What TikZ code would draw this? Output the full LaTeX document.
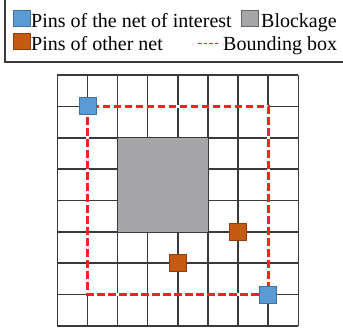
\documentclass[tikz,border=0pt]{standalone}
\usepackage{fontspec}
\setmainfont{Liberation Serif}
\definecolor{pinblue}{HTML}{5B9BD5}
\definecolor{pinblueb}{HTML}{41719C}
\definecolor{pinorange}{HTML}{C55A11}
\definecolor{pinorangeb}{HTML}{8C3E0E}
\definecolor{blockgray}{HTML}{A6A5A8}
\definecolor{gridgray}{HTML}{3A3A3A}
\definecolor{bbred}{HTML}{FF2020}
\tikzset{
  gridline/.style={draw=gridgray, line width=1.6pt},
  bluepin/.style={draw=pinblueb, fill=pinblue, line width=0.8pt, minimum size=17pt, inner sep=0pt},
  orangepin/.style={draw=pinorangeb, fill=pinorange, line width=0.8pt, minimum size=17pt, inner sep=0pt},
  blockbox/.style={fill=blockgray, inner sep=0pt},
  bbunder/.style={draw=white, line width=3pt},
  bbox/.style={draw=bbred, line width=2.8pt, dash pattern=on 7.5pt off 3.5pt},
  legtext/.style={anchor=base west, inner sep=0pt, font=\fontsize{20}{23}\selectfont},
  legsq/.style={inner sep=0pt, line width=0.7pt, anchor=south west},
}
\begin{document}
\begin{tikzpicture}[x=1pt, y=-1pt]
\useasboundingbox (0,0) rectangle (343,333);
% legend frame (cropped at top and right)
\draw[draw=gridgray, line width=1.5pt] (5,-10) -- (5,62) -- (360,62);
% legend items
\node[legsq, draw=pinblueb, fill=pinblue, minimum width=17pt, minimum height=16pt] (lb) at (13,27) {};
\node[legtext] (tb) at (31,27) {Pins of the net of interest};
\node[legsq, draw=gray!80!black, fill=blockgray, minimum width=17pt, minimum height=16pt] (lg) at (241,27) {};
\node[legtext] (tg) at (261,27) {Blockage};
\node[legsq, draw=pinorangeb, fill=pinorange, minimum width=17pt, minimum height=16pt] (lo) at (13,50) {};
\node[legtext] (to) at (31,50) {Pins of other net};
\coordinate (ld1) at (198,43);
\coordinate (ld2) at (219,43);
\draw[draw=bbred, line width=0.9pt, dash pattern=on 3.5pt off 2pt] (ld1) -- (ld2);
\node[legtext] (tbb) at (223,50) {Bounding box};
% grid
\foreach \i in {0,...,8} {
  \draw[gridline] ({57.3+30.125*\i},75) -- ({57.3+30.125*\i},326);
  \draw[gridline] (57.3,{75+31.375*\i}) -- (298.3,{75+31.375*\i});
}
% blockage
\node[blockbox, minimum width=90.4pt, minimum height=94.1pt] (blk) at ({57.3+30.125*3.5},{75+31.375*3.5}) {};
% coordinates of pins
\coordinate (p1) at ({57.3+30.125*1},{75+31.375*1});
\coordinate (p2) at ({57.3+30.125*7},{75+31.375*7});
\coordinate (p3) at ({57.3+30.125*6},{75+31.375*5});
\coordinate (p4) at ({57.3+30.125*4},{75+31.375*6});
% bounding box
\draw[bbunder] (p1) rectangle (p2);
\draw[bbox] (p1) rectangle (p2);
% pins
\node[bluepin] (b1) at (p1) {};
\node[bluepin] (b2) at (p2) {};
\node[orangepin] (o1) at (p3) {};
\node[orangepin] (o2) at (p4) {};
\end{tikzpicture}
\end{document}
